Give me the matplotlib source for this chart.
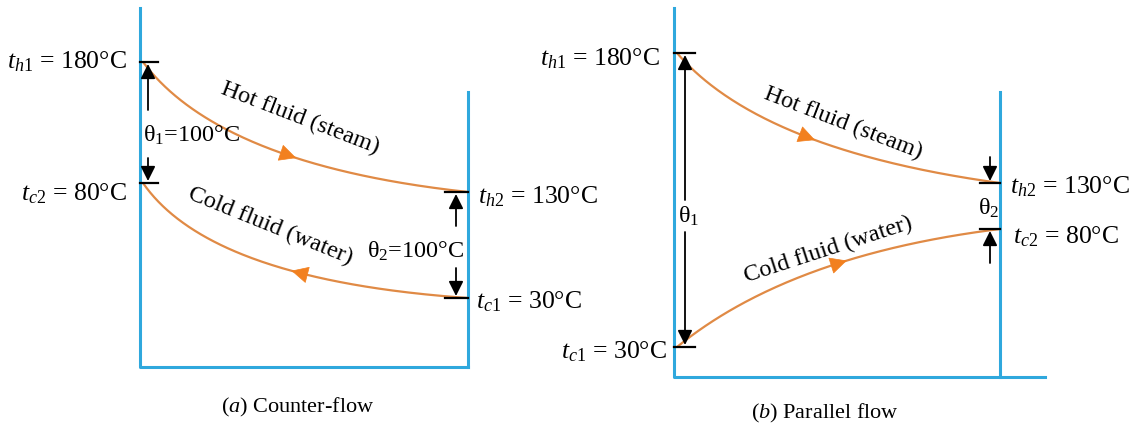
import numpy as np
import matplotlib.pyplot as plt

plt.rcParams['font.family'] = 'Liberation Serif'
plt.rcParams['mathtext.fontset'] = 'custom'
plt.rcParams['mathtext.rm'] = 'Liberation Serif'
plt.rcParams['mathtext.it'] = 'Liberation Serif:italic'

# temperatures: inlet, outlet
hot_temps = [180, 130]    # t_h1, t_h2
cold_temps = [30, 80]     # t_c1, t_c2
fluids = ['Hot fluid (steam)', 'Cold fluid (water)']
captions = ['Counter-flow', 'Parallel flow']
letters = ['a', 'b']

th1, th2 = hot_temps
tc1, tc2 = cold_temps
theta1_cf = th1 - tc2
theta2_cf = th2 - tc1

BLUE = '#2fa8dd'
ORANGE = '#e08a45'
HEAD = '#f2801f'
FS = 18.5

fig = plt.figure(figsize=(11.39, 4.25), dpi=100)
ax = fig.add_axes([0, 0, 1, 1])
ax.set_xlim(0, 1139)
ax.set_ylim(425, 0)
ax.axis('off')


def bez(p0, c, p2, n=200):
    t = np.linspace(0, 1, n)[:, None]
    p0, c, p2 = map(np.asarray, (p0, c, p2))
    return (1 - t)**2 * p0 + 2 * (1 - t) * t * c + t**2 * p2


def flow(p0, c, p2, t_arrow, reverse=False):
    pts = bez(p0, c, p2)
    ax.plot(pts[:, 0], pts[:, 1], color=ORANGE, lw=1.6, solid_capstyle='round')
    i = int(t_arrow * (len(pts) - 1))
    tail = pts[i + 8] if reverse else pts[i - 8]
    ax.annotate('', xy=pts[i], xytext=tail,
                arrowprops=dict(arrowstyle='-|>', color=HEAD, lw=0.5,
                                mutation_scale=28, shrinkA=0, shrinkB=0))


def frame(xl, xr, xend, ybot):
    ax.plot([xl, xl, xend], [8, ybot, ybot], color=BLUE, lw=2.2)
    ax.plot([xr, xr], [92, ybot], color=BLUE, lw=2.2)


def tick(x0, x1, y):
    ax.plot([x0, x1], [y, y], color='k', lw=1.6)


def dim(x, y_from, y_to):
    ax.annotate('', xy=(x, y_to), xytext=(x, y_from),
                arrowprops=dict(arrowstyle='-|>', color='k', lw=1.3,
                                mutation_scale=22, shrinkA=0, shrinkB=0))


def label(x, y, s, ha='left', size=FS):
    ax.text(x, y, s, ha=ha, va='baseline', fontsize=size)


# (a) counter-flow
frame(140, 468, 468, 367)
flow((143, 62), (220, 165), (468, 192), 0.6)
flow((143, 183), (210, 280), (468, 298), 0.6, reverse=True)
tick(140, 158, 62)
tick(140, 158, 183)
tick(445, 468, 192)
tick(445, 468, 298)
dim(148, 110, 64)
dim(148, 158, 181)
dim(456, 226, 194)
dim(456, 268, 296)
label(127, 68, rf'$t_{{h1}}$ = {th1}°C', ha='right')
label(127, 200, rf'$t_{{c2}}$ = {tc2}°C', ha='right')
label(478, 203, rf'$t_{{h2}}$ = {th2}°C')
label(476, 308, rf'$t_{{c1}}$ = {tc1}°C')
label(143, 142, f'θ$_1$={theta1_cf}°C', size=17.5)
label(367, 258, f'θ$_2$={theta2_cf}°C', size=17.5)
ax.text(300, 118, fluids[0], rotation=-21, ha='center', va='center',
        rotation_mode='anchor', fontsize=17.5)
ax.text(270, 226, fluids[1], rotation=-22, ha='center', va='center',
        rotation_mode='anchor', fontsize=17.5)
ax.text(298, 412, rf'(${letters[0]}$) {captions[0]}', ha='center',
        va='baseline', fontsize=16)

# (b) parallel flow
frame(674, 1000, 1045, 377)
flow((677, 53), (760, 150), (1000, 183), 0.55)
flow((677, 347), (790, 255), (1000, 229), 0.6)
tick(674, 695, 53)
tick(674, 695, 347)
tick(980, 1000, 183)
tick(980, 1000, 229)
dim(685, 200, 55)
dim(685, 232, 345)
dim(990, 157, 181)
dim(990, 263, 231)
label(660, 65, rf'$t_{{h1}}$ = {th1}°C', ha='right')
label(667, 358, rf'$t_{{c1}}$ = {tc1}°C', ha='right')
label(1010, 193, rf'$t_{{h2}}$ = {th2}°C')
label(1013, 243, rf'$t_{{c2}}$ = {tc2}°C')
label(678, 223, 'θ$_1$', size=17.5)
label(978, 215, 'θ$_2$', size=17.5)
ax.text(843, 123, fluids[0], rotation=-21, ha='center', va='center',
        rotation_mode='anchor', fontsize=17.5)
ax.text(828, 250, fluids[1], rotation=18, ha='center', va='center',
        rotation_mode='anchor', fontsize=17.5)
ax.text(825, 418, rf'(${letters[1]}$) {captions[1]}', ha='center',
        va='baseline', fontsize=16)

fig.savefig('out.png', dpi=100)
